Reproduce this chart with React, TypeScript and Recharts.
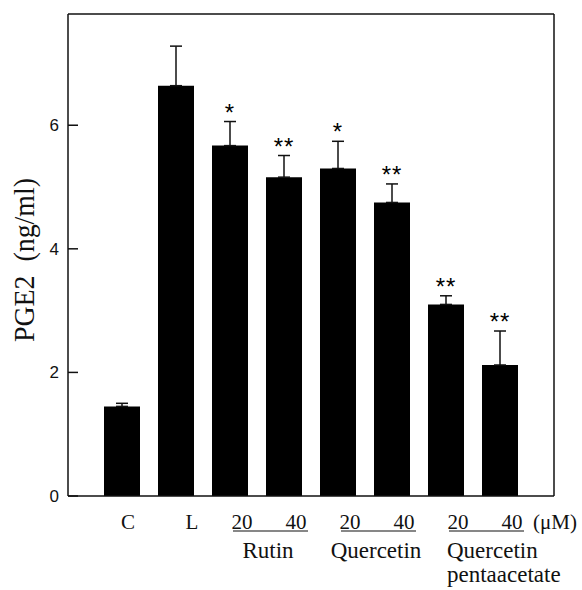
import React from 'react';
import { ComposedChart, Bar, Line, XAxis, YAxis, ErrorBar, LabelList } from 'recharts';

// PGE2 production: control, LPS, and LPS + flavonoids at 20 / 40 uM
const groups = ['C', 'L', 'R20', 'R40', 'Q20', 'Q40', 'P20', 'P40'];
const tickText = ['C', 'L', '20', '40', '20', '40', '20', '40'];
const pge2 = [1.45, 6.64, 5.67, 5.16, 5.3, 4.75, 3.1, 2.12];
const sem = [0.05, 0.64, 0.39, 0.35, 0.44, 0.3, 0.14, 0.55];
const stars = ['', '', '*', '**', '*', '**', '**', '**'];
const compounds = ['Rutin', 'Quercetin', 'Quercetin pentaacetate'];
const yTicks = [0, 2, 4, 6];

const data = groups.map((g, i) => ({
  name: g,
  value: pge2[i],
  err: [0, sem[i]],
  top: pge2[i] + sem[i],
  sig: stars[i],
}));

const SERIF = '"Liberation Serif", "Times New Roman", serif';
const SANS = '"Liberation Sans", Arial, sans-serif';
const INK = '#111';
const BAND = 54; // distance between neighbouring bars

const XTick = (props: any) => {
  const { x, y, index } = props;
  const label = tickText[index];
  const base = y + 33;

  if (index < 2) {
    const shift = index === 0 ? 6 : 16;
    return (
      <text x={x + shift} y={base} textAnchor="middle" fontFamily={SERIF} fontSize={21} fill={INK}>
        {label}
      </text>
    );
  }

  const isHigh = index % 2 === 1;
  const out: any[] = [
    <text key="t" x={x + 12} y={base} textAnchor="middle" fontFamily={SERIF} fontSize={21} fill={INK}>
      {label}
    </text>,
  ];

  if (isHigh) {
    const name = compounds[(index - 3) / 2];
    out.push(
      <line key="u" x1={x - BAND + 3} x2={x + 24} y1={base + 2} y2={base + 2} stroke={INK} strokeWidth={1.2} />
    );
    if (index === 7) {
      const [first, second] = name.split(' ');
      out.push(
        <text key="n1" x={x - BAND + 1} y={base + 29} fontFamily={SERIF} fontSize={23} fill={INK}>{first}</text>,
        <text key="n2" x={x - BAND + 1} y={base + 53} fontFamily={SERIF} fontSize={23} fill={INK}>{second}</text>,
        <text key="um" x={x + 33} y={base} fontFamily={SERIF} fontSize={21} fill={INK}>(μM)</text>
      );
    } else {
      out.push(
        <text key="n" x={x - 16} y={base + 29} textAnchor="middle" fontFamily={SERIF} fontSize={23} fill={INK}>
          {name}
        </text>
      );
    }
  }
  return <g>{out}</g>;
};

const YTick = (props: any) => {
  const { x, y, payload } = props;
  return (
    <g>
      <line x1={x + 9} x2={x + 19} y1={y} y2={y} stroke={INK} strokeWidth={1.5} />
      <text x={x} y={y} dy={6} textAnchor="end" fontFamily={SANS} fontSize={17} fill={INK}>
        {payload.value}
      </text>
    </g>
  );
};

const YLabel = (props: any) => {
  const vb = props.viewBox;
  const cx = vb.x + 34;
  const cy = vb.y + vb.height / 2 + 5;
  return (
    <text
      transform={`translate(${cx},${cy}) rotate(-90)`}
      textAnchor="middle"
      fontFamily={SERIF}
      fontSize={30}
      textLength={164}
      lengthAdjust="spacingAndGlyphs"
      fill={INK}
      style={{ whiteSpace: 'pre' }}
    >
      PGE2  (ng/ml)
    </text>
  );
};

export default function App() {
  return (
    <div style={{ position: 'absolute', left: 0, top: 0, background: '#fff' }}>
      <ComposedChart width={582} height={590} data={data} margin={{ top: 13, right: 27, left: 0, bottom: 0 }}>
        <XAxis
          dataKey="name"
          interval={0}
          padding={{ left: 27, right: 27 }}
          height={94}
          tick={<XTick />}
          tickLine={false}
          tickSize={0}
          tickMargin={0}
          axisLine={{ stroke: INK, strokeWidth: 1.5 }}
        />
        {/* top and right edges of the box */}
        <XAxis
          xAxisId="frame"
          dataKey="name"
          orientation="top"
          height={1}
          tick={false}
          tickLine={false}
          padding={{ left: 27, right: 27 }}
          axisLine={{ stroke: INK, strokeWidth: 1.5 }}
        />
        <YAxis
          domain={[0, 7.8]}
          ticks={yTicks}
          width={68}
          tick={<YTick />}
          tickLine={false}
          tickSize={0}
          tickMargin={9}
          axisLine={{ stroke: INK, strokeWidth: 1.5 }}
          label={{ content: <YLabel /> }}
        />
        <YAxis
          yAxisId="frame"
          orientation="right"
          domain={[0, 7.8]}
          width={1}
          tick={false}
          tickLine={false}
          axisLine={{ stroke: INK, strokeWidth: 1.5 }}
        />
        <Bar dataKey="value" fill="#000" barSize={36} isAnimationActive={false}>
          <ErrorBar dataKey="err" direction="y" width={6} stroke={INK} strokeWidth={1.5} />
        </Bar>
        <Line
          xAxisId="frame"
          yAxisId="frame"
          dataKey="top"
          stroke="none"
          dot={false}
          activeDot={false}
          isAnimationActive={false}
        >
          <LabelList dataKey="sig" position="top" offset={1} fill="#000" fontSize={24} fontFamily={SANS} letterSpacing={1} />
        </Line>
      </ComposedChart>
    </div>
  );
}
